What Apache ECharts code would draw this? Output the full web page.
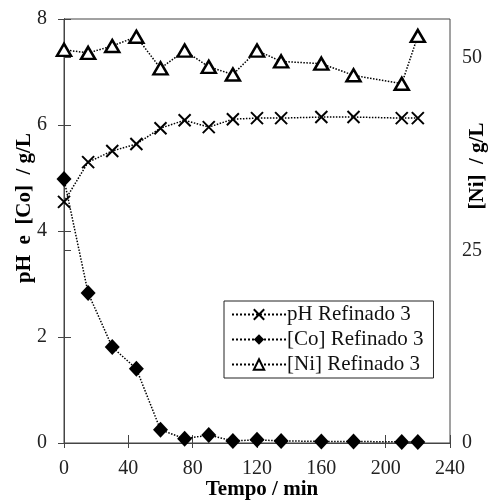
<!DOCTYPE html>
<html>
<head>
<meta charset="utf-8">
<script src="https://cdn.jsdelivr.net/npm/echarts@6/dist/echarts.min.js"></script>
<style>html,body{margin:0;padding:0;background:#fff;}#c{width:489px;height:502px;}</style>
</head>
<body>
<div id="c"></div>
<script>
const tempo = [0, 15, 30, 45, 60, 75, 90, 105, 120, 135, 160, 180, 210, 220];
const pH = [4.55, 5.30, 5.51, 5.64, 5.94, 6.09, 5.96, 6.11, 6.13, 6.13, 6.15, 6.15, 6.13, 6.13];
const co = [4.98, 2.83, 1.81, 1.40, 0.25, 0.08, 0.15, 0.04, 0.06, 0.04, 0.03, 0.03, 0.02, 0.02];
const ni = [51.0, 50.6, 51.5, 52.7, 48.6, 50.9, 48.8, 47.8, 50.9, 49.5, 49.2, 47.7, 46.6, 52.8];
const names = ['pH Refinado 3', '[Co] Refinado 3', '[Ni] Refinado 3'];
const niTicks = [0, 25, 50];

const font = 'Liberation Serif';
const axisColor = '#444';
const pairs = arr => tempo.map((t, i) => [t, arr[i]]);
const line = {type: 'dotted', width: 1.5, color: '#000'};

function xAx(inside, withLabel) {
  return {
    type: 'value', min: 0, max: 240, interval: 40, position: 'bottom',
    axisLine: {show: true, lineStyle: {color: axisColor}},
    axisTick: {inside: inside, length: inside ? 8 : 5, lineStyle: {color: axisColor}},
    axisLabel: {show: withLabel, color: '#222', fontFamily: font, fontSize: 20, margin: 16},
    splitLine: {show: false}
  };
}
function yAx(inside, withLabel) {
  return {
    type: 'value', min: 0, max: 8, interval: 2, position: 'left',
    axisLine: {show: true, lineStyle: {color: axisColor}},
    axisTick: {show: true, inside: inside, length: inside ? 7 : 6, lineStyle: {color: axisColor}},
    axisLabel: {show: withLabel, color: '#222', fontFamily: font, fontSize: 20, margin: 17},
    splitLine: {show: false}
  };
}

const chart = echarts.init(document.getElementById('c'));
chart.setOption({
  animation: false,
  backgroundColor: '#fff',
  grid: {left: 64, right: 39, top: 19, bottom: 59, show: true, borderColor: axisColor, borderWidth: 1},
  xAxis: [xAx(false, true), xAx(true, false)],
  yAxis: [yAx(false, true), {
    type: 'value', min: 0, max: 55, interval: 25, position: 'right',
    axisLine: {show: true, lineStyle: {color: axisColor}},
    axisTick: {show: true, inside: false, length: 7, customValues: niTicks, lineStyle: {color: axisColor}},
    axisLabel: {color: '#222', fontFamily: font, fontSize: 20, margin: 12, customValues: niTicks},
    splitLine: {show: false}
  }, yAx(true, false)],
  legend: {
    left: 224, top: 301, orient: 'vertical',
    backgroundColor: '#fff',
    borderColor: '#222', borderWidth: 1,
    padding: [3, 10, 3, 7],
    itemWidth: 54, itemHeight: 13, itemGap: 4,
    textStyle: {fontFamily: font, fontSize: 21, color: '#111', padding: [0, 0, 0, -4]},
    data: names
  },
  series: [{
    name: names[0], type: 'line', xAxisIndex: 0, yAxisIndex: 0, data: pairs(pH),
    lineStyle: line,
    symbol: 'path://M0,0L10,10M10,0L0,10', symbolSize: 12,
    itemStyle: {color: '#000', borderColor: '#000', borderWidth: 2},
    z: 3
  }, {
    name: names[1], type: 'line', xAxisIndex: 0, yAxisIndex: 0, data: pairs(co),
    lineStyle: line,
    symbol: 'diamond', symbolSize: [15, 16],
    itemStyle: {color: '#000'},
    z: 4
  }, {
    name: names[2], type: 'line', xAxisIndex: 0, yAxisIndex: 1, data: pairs(ni),
    lineStyle: line,
    symbol: 'triangle', symbolSize: [14, 12],
    itemStyle: {color: '#fff', borderColor: '#000', borderWidth: 2.5},
    z: 5
  }],
  graphic: [{
    type: 'text', x: 25, y: 208, rotation: Math.PI / 2,
    style: {text: 'pH  e  [Co]  / g/L', font: 'bold 21px "Liberation Serif"', fill: '#000', align: 'center', verticalAlign: 'middle'}
  }, {
    type: 'text', x: 478, y: 166, rotation: Math.PI / 2,
    style: {text: '[Ni]  / g/L', font: 'bold 21px "Liberation Serif"', fill: '#000', align: 'center', verticalAlign: 'middle'}
  }, {
    type: 'text', x: 262, y: 490,
    style: {text: 'Tempo / min', font: 'bold 21px "Liberation Serif"', fill: '#000', align: 'center', verticalAlign: 'middle'}
  }]
});
</script>
</body>
</html>
